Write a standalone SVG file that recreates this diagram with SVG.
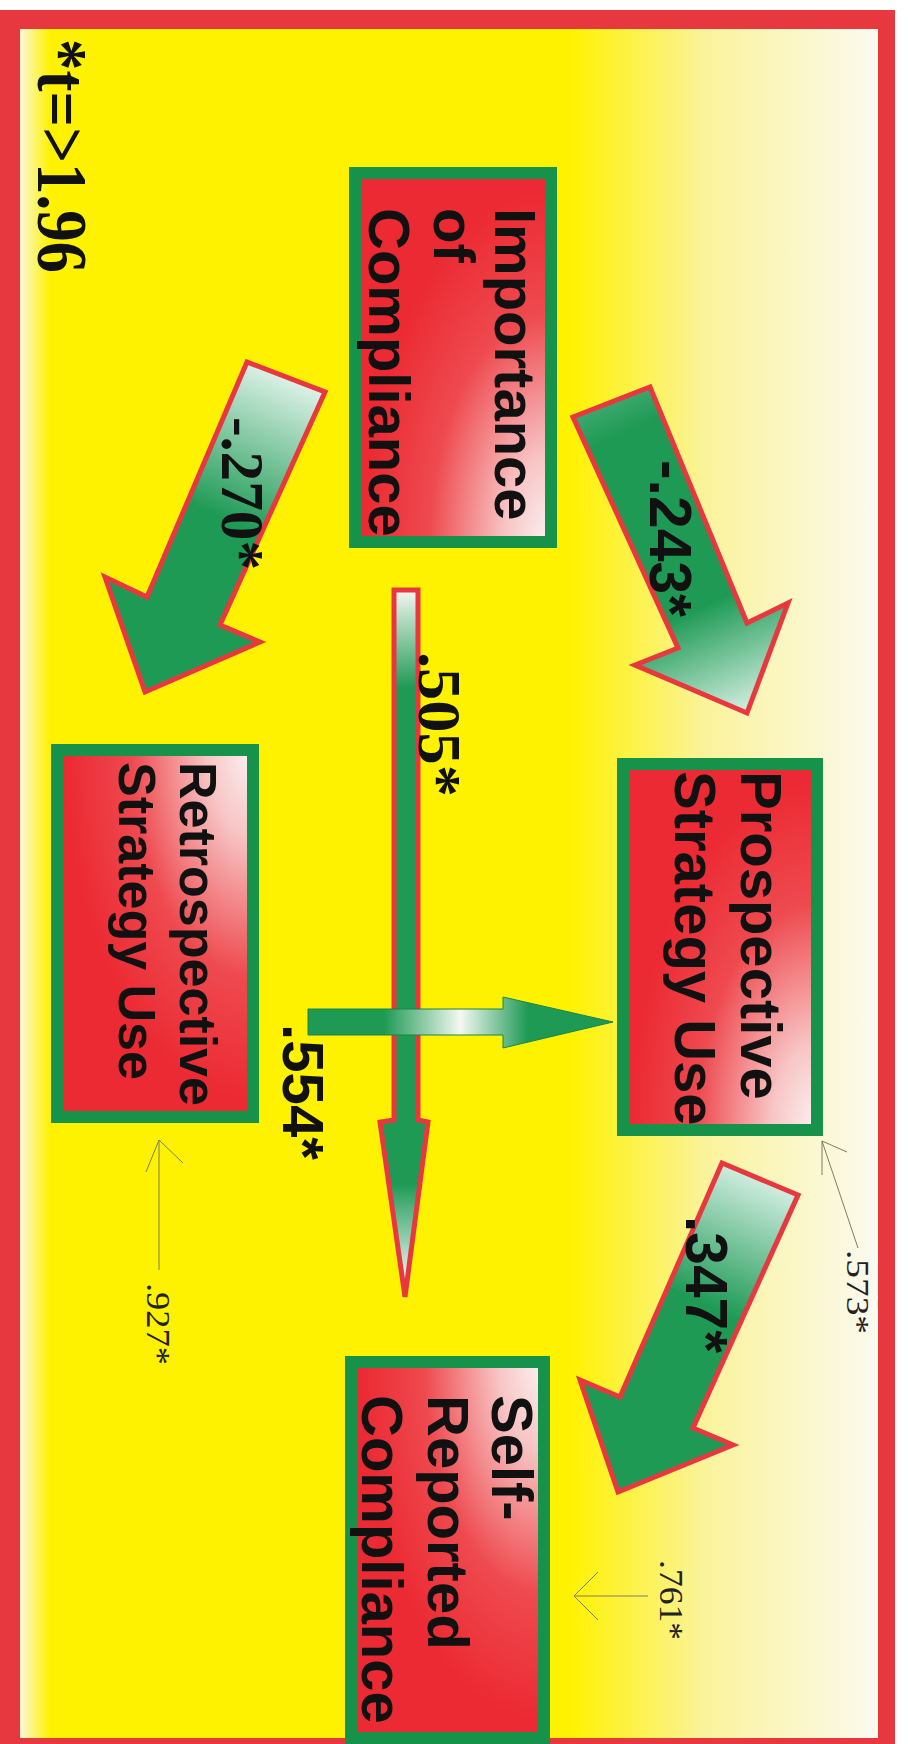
<svg xmlns="http://www.w3.org/2000/svg" width="908" height="1744" viewBox="0 0 908 1744">
<defs>
<style>
.lbl{font-family:"Liberation Sans",Arial,sans-serif;font-weight:bold;fill:#111}
.ser{font-family:"Liberation Serif","Times New Roman",serif;font-weight:bold;fill:#111}
.res{font-family:"Liberation Serif","Times New Roman",serif;fill:#222}
.box{stroke:#16924A;stroke-width:12}
.big{stroke:#E8383F;stroke-width:5;stroke-linejoin:miter}
.thin{stroke:#7D7D66;stroke-width:1;fill:none}
</style>
<linearGradient id="bg" x1="0" y1="0" x2="1" y2="0">
<stop offset="0" stop-color="#FAF7D8"/>
<stop offset="0.035" stop-color="#FFF200"/>
<stop offset="0.64" stop-color="#FFF200"/>
<stop offset="0.8" stop-color="#FAF39C"/>
<stop offset="1" stop-color="#FBFAF0"/>
</linearGradient>
<radialGradient id="gA" cx="1" cy="1" r="0.95" fx="1" fy="1">
<stop offset="0" stop-color="#FBF3F3"/>
<stop offset="0.25" stop-color="#F8C4C4"/>
<stop offset="0.65" stop-color="#EE4A4F"/>
<stop offset="1" stop-color="#EC2A33"/>
</radialGradient>
<radialGradient id="gB" cx="1" cy="0" r="0.95" fx="1" fy="0">
<stop offset="0" stop-color="#FBF3F3"/>
<stop offset="0.25" stop-color="#F8C4C4"/>
<stop offset="0.65" stop-color="#EE4A4F"/>
<stop offset="1" stop-color="#EC2A33"/>
</radialGradient>
<linearGradient id="a270" gradientUnits="userSpaceOnUse" x1="286" y1="377" x2="145" y2="692">
<stop offset="0" stop-color="#DCF1E6"/>
<stop offset="0.45" stop-color="#1E9A55"/>
<stop offset="1" stop-color="#1E9A55"/>
</linearGradient>
<linearGradient id="a243" gradientUnits="userSpaceOnUse" x1="611" y1="402" x2="747" y2="713">
<stop offset="0" stop-color="#3DA86C"/>
<stop offset="0.1" stop-color="#1E9A55"/>
<stop offset="0.66" stop-color="#1E9A55"/>
<stop offset="1" stop-color="#D5EFE2"/>
</linearGradient>
<linearGradient id="a347" gradientUnits="userSpaceOnUse" x1="760" y1="1179" x2="618" y2="1492">
<stop offset="0" stop-color="#D0EDE0"/>
<stop offset="0.4" stop-color="#1E9A55"/>
<stop offset="1" stop-color="#1E9A55"/>
</linearGradient>
<linearGradient id="a505" gradientUnits="userSpaceOnUse" x1="0" y1="589" x2="0" y2="1297">
<stop offset="0" stop-color="#F7F7F2"/>
<stop offset="0.14" stop-color="#1E9A55"/>
<stop offset="0.84" stop-color="#1E9A55"/>
<stop offset="0.98" stop-color="#F0F8F4"/>
</linearGradient>
<linearGradient id="a554" gradientUnits="userSpaceOnUse" x1="308" y1="0" x2="613" y2="0">
<stop offset="0" stop-color="#1E9A55"/>
<stop offset="0.25" stop-color="#1E9A55"/>
<stop offset="0.5" stop-color="#F4F8F2"/>
<stop offset="0.72" stop-color="#1E9A55"/>
<stop offset="1" stop-color="#1E9A55"/>
</linearGradient>
</defs>

<rect x="0" y="0" width="908" height="1744" fill="#FFFFFF"/>
<rect x="0" y="10" width="895" height="1744" fill="#E8383F"/>
<rect x="20" y="29" width="858" height="1709" fill="url(#bg)"/>

<text class="ser" transform="translate(38,39) rotate(90)" font-size="72" textLength="234" lengthAdjust="spacingAndGlyphs">*t=&gt;1.96</text>

<g id="node-importance">
<rect class="box" x="355" y="173" width="196" height="369" fill="url(#gA)"/>
<text class="lbl" font-size="58" transform="translate(495,208) rotate(90)">Importance</text>
<text class="lbl" font-size="58" transform="translate(434,208) rotate(90)">of</text>
<text class="lbl" font-size="58" transform="translate(369,208) rotate(90)">Compliance</text>
</g>

<g id="node-prospective">
<rect class="box" x="623" y="764" width="194" height="366" fill="url(#gA)"/>
<text class="lbl" font-size="58" transform="translate(741,771) rotate(90)">Prospective</text>
<text class="lbl" font-size="58" transform="translate(675,771) rotate(90)">Strategy Use</text>
</g>

<g id="node-retrospective">
<rect class="box" x="57" y="750" width="196" height="367" fill="url(#gB)"/>
<text class="lbl" font-size="52" transform="translate(180,762) rotate(90)">Retrospective</text>
<text class="lbl" font-size="52" transform="translate(119,762) rotate(90)">Strategy Use</text>
</g>

<g id="node-selfreported">
<rect class="box" x="351" y="1362" width="193" height="376" fill="url(#gB)"/>
<text class="lbl" font-size="58" transform="translate(492,1395) rotate(90)">Self-</text>
<text class="lbl" font-size="58" transform="translate(428,1395) rotate(90)">Reported</text>
<text class="lbl" font-size="58" transform="translate(362,1395) rotate(90)">Compliance</text>
</g>

<g id="connectors">
<polygon class="big" fill="url(#a270)" points="247,362 325,392 220,625 260,642 145,692 105,577 147,597"/>
<polygon class="big" fill="url(#a243)" points="573,417 650,387 747,623 788,603 747,713 635,665 678,648"/>
<polygon class="big" fill="url(#a347)" points="722,1163 798,1195 693,1428 733,1445 618,1492 580,1380 620,1397"/>
<polygon class="big" stroke-width="4" fill="url(#a505)" points="394,590 418,590 418,1120 428,1122 405,1297 380,1122 394,1120"/>
<polygon fill="url(#a554)" stroke="#1A8446" stroke-width="1" points="308,1009 503,1009 503,997 613,1022 503,1048 503,1035 308,1035"/>

<path class="thin" d="M858,1248 L822,1141 M822,1141 L847,1152 M822,1141 L822,1175"/>
<path class="thin" d="M648,1596 L574,1596 M574,1596 L598,1572 M574,1596 L598,1620"/>
<path class="thin" d="M159,1270 L159,1140 M159,1140 L146,1172 M159,1140 L183,1163"/>

<text class="ser" font-size="62" transform="translate(222,417) rotate(90)" textLength="153" lengthAdjust="spacingAndGlyphs">-.270*</text>
<text class="lbl" font-size="60" transform="translate(650,460) rotate(90)" textLength="157" lengthAdjust="spacingAndGlyphs">-.243*</text>
<text class="ser" font-size="62" transform="translate(419,652) rotate(90)" textLength="145" lengthAdjust="spacingAndGlyphs">.505*</text>
<text class="lbl" font-size="58" transform="translate(283,1024) rotate(90)" textLength="136" lengthAdjust="spacingAndGlyphs">.554*</text>
<text class="lbl" font-size="60" transform="translate(686,1216) rotate(90)" textLength="137" lengthAdjust="spacingAndGlyphs">.347*</text>
<text class="res" font-size="32" transform="translate(847,1250) rotate(90)" textLength="84" lengthAdjust="spacingAndGlyphs">.573*</text>
<text class="res" font-size="33" transform="translate(660,1560) rotate(90)" textLength="80" lengthAdjust="spacingAndGlyphs">.761*</text>
<text class="res" font-size="33" transform="translate(147,1283) rotate(90)" textLength="82" lengthAdjust="spacingAndGlyphs">.927*</text>
</g>
</svg>
